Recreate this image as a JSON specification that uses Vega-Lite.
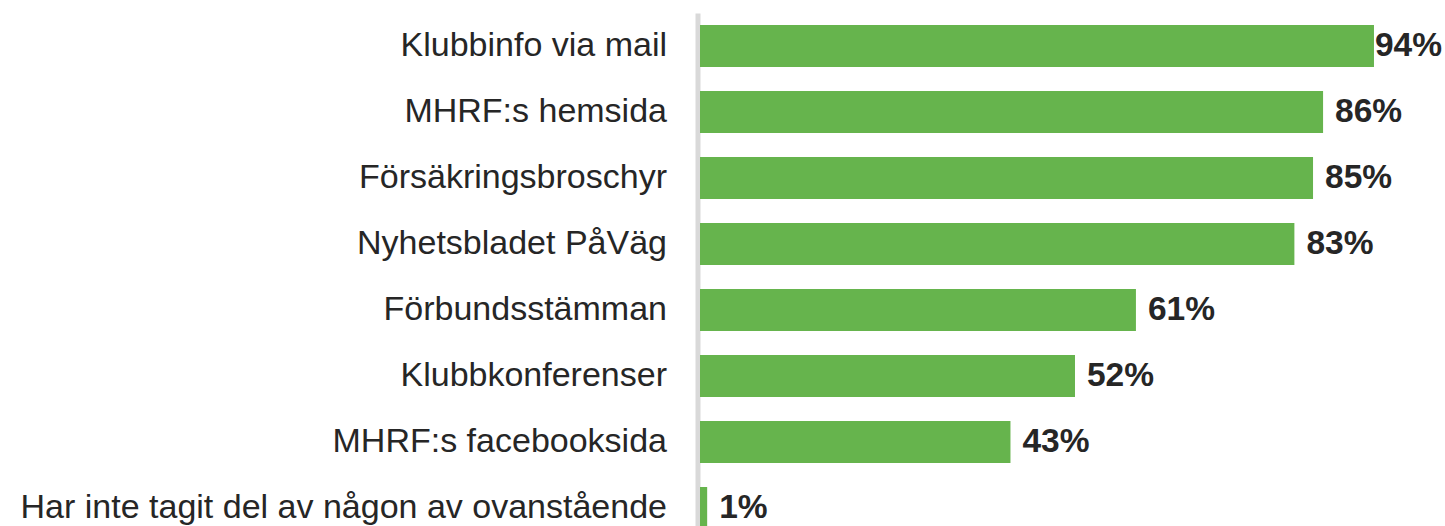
{
  "$schema": "https://vega.github.io/schema/vega-lite/v6.json",
  "autosize": {"type": "none"},
  "padding": {"left": 700, "top": 13, "right": 28, "bottom": 0},
  "width": 717,
  "height": 528,
  "background": "white",
  "config": {
    "view": {"stroke": null},
    "font": "Liberation Sans"
  },
  "data": {
    "values": [
      {"category": "Klubbinfo via mail", "value": 94.0, "label": "94%"},
      {"category": "MHRF:s hemsida", "value": 86.9, "label": "86%"},
      {"category": "Försäkringsbroschyr", "value": 85.5, "label": "85%"},
      {"category": "Nyhetsbladet PåVäg", "value": 82.9, "label": "83%"},
      {"category": "Förbundsstämman", "value": 60.8, "label": "61%"},
      {"category": "Klubbkonferenser", "value": 52.3, "label": "52%"},
      {"category": "MHRF:s facebooksida", "value": 43.3, "label": "43%"},
      {"category": "Har inte tagit del av någon av ovanstående", "value": 1.0, "label": "1%"}
    ]
  },
  "encoding": {
    "y": {
      "field": "category",
      "type": "nominal",
      "sort": null,
      "scale": {"paddingInner": 0.3636, "paddingOuter": 0.1818},
      "axis": {
        "title": null,
        "ticks": false,
        "tickSize": 0,
        "offset": 2.5,
        "domainColor": "#d9d9d9",
        "domainWidth": 5,
        "labelFont": "Liberation Sans",
        "labelFontSize": 34,
        "labelColor": "#262626",
        "labelPadding": 31,
        "labelLimit": 0
      }
    },
    "x": {
      "field": "value",
      "type": "quantitative",
      "scale": {"domain": [0, 100], "nice": false},
      "axis": null
    }
  },
  "layer": [
    {"mark": {"type": "bar", "color": "#66B44D"}},
    {
      "transform": [{"filter": "datum.value < 90"}],
      "mark": {"type": "text", "align": "left", "baseline": "middle", "dx": 12, "fontSize": 33.5, "fontWeight": "bold", "color": "#262626", "font": "Liberation Sans"},
      "encoding": {"text": {"field": "label"}}
    },
    {
      "transform": [{"filter": "datum.value >= 90"}],
      "mark": {"type": "text", "align": "left", "baseline": "middle", "dx": 1, "fontSize": 33.5, "fontWeight": "bold", "color": "#262626", "font": "Liberation Sans"},
      "encoding": {"text": {"field": "label"}}
    }
  ]
}
